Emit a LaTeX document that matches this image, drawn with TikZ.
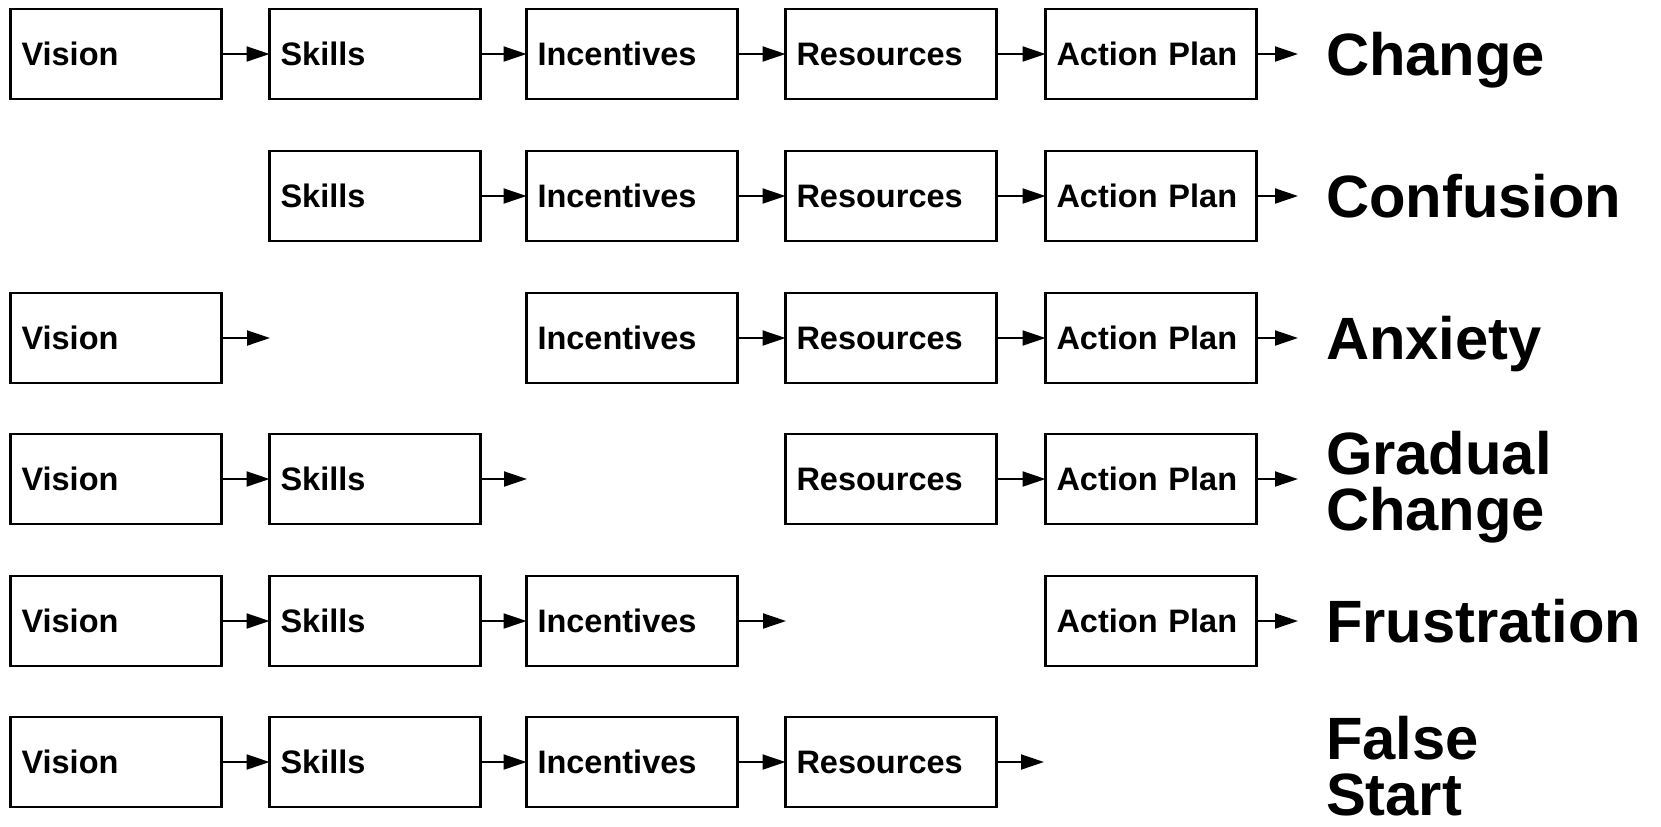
\documentclass[tikz,border=0pt]{standalone}
\usepackage{fontspec}
\setmainfont{Liberation Sans}
\usepackage{tikz}
\usetikzlibrary{arrows.meta}
\tikzset{>={Triangle[length=0.46cm,width=0.3cm]}}
\tikzset{block/.style={draw, line width=1.3pt, outer sep=0pt, inner xsep=0.22cm, text width=3.78cm, minimum height=1.8cm, align=left, font=\fontsize{18.5}{21}\selectfont\bfseries},
	result/.style={anchor=west, inner xsep=0.56cm, inner ysep=0pt, outer sep=0pt, text depth=0pt, align=left, font=\fontsize{34}{32}\selectfont\bfseries},
	link/.style={->, line width=1.1pt}}

\begin{document}
\begin{tikzpicture}[x=0.02cm, y=-0.02cm]
	\useasboundingbox (0,0) rectangle (1661,826);
	\node[block] (v1) at (116,54) {Vision};
	\node[block] (s1) at (375,54) {Skills};
	\node[block] (i1) at (632,54) {Incentives};
	\node[block] (r1) at (891,54) {Resources};
	\node[block] (a1) at (1151,54) {Action Plan};
	\node[result] (o1) at (1298,54) {Change};
	\draw [link] (v1) -- (s1);
	\draw [link] (s1) -- (i1);
	\draw [link] (i1) -- (r1);
	\draw [link] (r1) -- (a1);
	\draw [link] (a1) -- (a1 -| o1.west);
	\node[block] (s2) at (375,196) {Skills};
	\node[block] (i2) at (632,196) {Incentives};
	\node[block] (r2) at (891,196) {Resources};
	\node[block] (a2) at (1151,196) {Action Plan};
	\node[result] (o2) at (1298,196) {Confusion};
	\draw [link] (s2) -- (i2);
	\draw [link] (i2) -- (r2);
	\draw [link] (r2) -- (a2);
	\draw [link] (a2) -- (a2 -| o2.west);
	\node[block] (v3) at (116,338) {Vision};
	\coordinate (gap3) at (270,338);
	\node[block] (i3) at (632,338) {Incentives};
	\node[block] (r3) at (891,338) {Resources};
	\node[block] (a3) at (1151,338) {Action Plan};
	\node[result] (o3) at (1298,338) {Anxiety};
	\draw [link] (v3) -- (gap3);
	\draw [link] (i3) -- (r3);
	\draw [link] (r3) -- (a3);
	\draw [link] (a3) -- (a3 -| o3.west);
	\node[block] (v4) at (116,479) {Vision};
	\node[block] (s4) at (375,479) {Skills};
	\coordinate (gap4) at (527,479);
	\node[block] (r4) at (891,479) {Resources};
	\node[block] (a4) at (1151,479) {Action Plan};
	\node[result, text depth={}] (o4) at (1298,487) {Gradual\\Change};
	\draw [link] (v4) -- (s4);
	\draw [link] (s4) -- (gap4);
	\draw [link] (r4) -- (a4);
	\draw [link] (a4) -- (a4 -| o4.west);
	\node[block] (v5) at (116,621) {Vision};
	\node[block] (s5) at (375,621) {Skills};
	\node[block] (i5) at (632,621) {Incentives};
	\coordinate (gap5) at (786,621);
	\node[block] (a5) at (1151,621) {Action Plan};
	\node[result] (o5) at (1298,621) {Frustration};
	\draw [link] (v5) -- (s5);
	\draw [link] (s5) -- (i5);
	\draw [link] (i5) -- (gap5);
	\draw [link] (a5) -- (a5 -| o5.west);
	\node[block] (v6) at (116,762) {Vision};
	\node[block] (s6) at (375,762) {Skills};
	\node[block] (i6) at (632,762) {Incentives};
	\node[block] (r6) at (891,762) {Resources};
	\coordinate (gap6) at (1044,762);
	\node[result, text depth={}] (o6) at (1298,766) {False\\Start};
	\draw [link] (v6) -- (s6);
	\draw [link] (s6) -- (i6);
	\draw [link] (i6) -- (r6);
	\draw [link] (r6) -- (gap6);
\end{tikzpicture}
\end{document}
